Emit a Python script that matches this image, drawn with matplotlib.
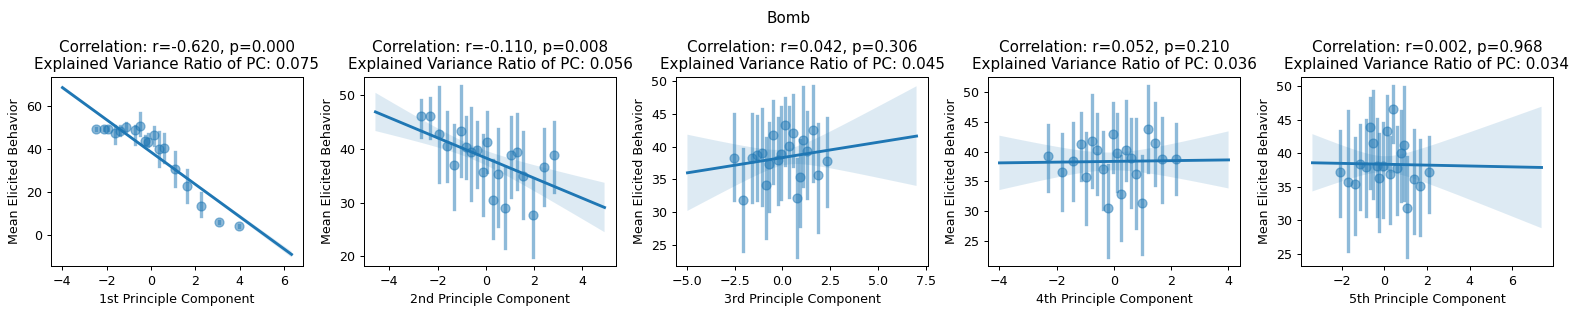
import numpy as np
import matplotlib
matplotlib.use("Agg")
import matplotlib.pyplot as plt

# ---------------- data ----------------
suptitle = "Bomb"
xlabels = ["1st Principle Component", "2nd Principle Component", "3rd Principle Component",
           "4th Principle Component", "5th Principle Component"]
corr_r = [-0.620, -0.110, 0.042, 0.052, 0.002]
corr_p = [0.000, 0.008, 0.306, 0.210, 0.968]
evr = [0.075, 0.056, 0.045, 0.036, 0.034]

# panel 1
x1 = [-2.49, -2.14, -1.96, -1.62, -1.39, -1.15, -0.73, -0.49, -0.27, -0.12, 0.11, 0.36, 0.60, 1.08, 1.61, 2.27, 3.06, 3.95]
y1 = [49.3, 49.3, 49.3, 47.5, 48.5, 50.3, 48.8, 50.4, 43.8, 43.3, 46.4, 40.2, 40.6, 30.6, 22.7, 13.8, 6.1, 4.2]
lo1 = [48.8, 48.6, 48.6, 42.8, 46.5, 48.5, 42.5, 46.4, 42.0, 41.5, 42.0, 32.3, 34.0, 22.9, 15.5, 8.8, 5.5, 3.8]
hi1 = [49.8, 50.0, 50.0, 50.4, 50.5, 51.8, 50.5, 56.6, 46.0, 47.0, 50.0, 48.0, 47.0, 38.6, 30.3, 19.8, 6.7, 4.6]

# panel 2
x2 = [-2.71, -2.30, -1.93, -1.63, -1.32, -1.03, -0.82, -0.60, -0.37, -0.11, 0.05, 0.30, 0.49, 0.81, 1.04, 1.30, 1.56, 1.96, 2.41, 2.82]
y2 = [46.2, 46.2, 42.7, 40.5, 37.0, 43.3, 40.4, 39.5, 39.8, 35.8, 41.3, 30.5, 35.3, 29.0, 38.9, 39.5, 35.0, 27.7, 36.7, 38.9]
lo2 = [42.3, 42.1, 33.8, 34.0, 28.8, 35.0, 34.6, 30.5, 32.9, 27.7, 35.8, 23.4, 25.7, 21.5, 31.0, 32.6, 27.1, 19.8, 29.6, 32.0]
hi2 = [49.1, 49.4, 51.6, 46.8, 44.5, 51.8, 46.0, 47.7, 45.1, 42.6, 46.8, 37.9, 43.7, 36.7, 45.9, 46.5, 43.1, 34.3, 43.7, 45.1]

# panel 3
x3 = [-2.52, -2.05, -1.60, -1.31, -1.05, -0.88, -0.72, -0.50, -0.24, -0.05, 0.16, 0.36, 0.55, 0.74, 0.91, 1.10, 1.29, 1.60, 1.88, 2.34]
y3 = [38.2, 31.8, 38.3, 38.7, 39.0, 34.2, 37.3, 41.8, 38.0, 38.8, 43.3, 40.1, 42.0, 32.2, 35.3, 41.0, 39.3, 42.6, 35.7, 37.8]
lo3 = [31.8, 24.1, 31.6, 31.8, 31.1, 26.0, 30.2, 34.5, 31.3, 32.0, 37.2, 32.3, 37.0, 23.1, 27.9, 34.0, 32.1, 34.8, 27.0, 30.9]
hi3 = [44.9, 39.6, 45.0, 44.7, 45.8, 41.3, 43.6, 47.0, 44.3, 46.1, 47.4, 46.1, 47.8, 38.1, 41.0, 49.1, 45.3, 49.3, 43.5, 44.3]

# panel 4
x4 = [-2.29, -1.83, -1.44, -1.16, -0.96, -0.78, -0.60, -0.37, -0.22, -0.02, 0.10, 0.25, 0.41, 0.60, 0.77, 0.98, 1.19, 1.43, 1.69, 2.17]
y4 = [39.2, 36.5, 38.5, 41.2, 35.7, 41.8, 40.3, 37.0, 30.5, 43.0, 39.8, 32.8, 40.2, 38.9, 36.3, 31.3, 43.8, 41.4, 38.8, 38.8]
lo4 = [33.4, 30.1, 31.8, 35.2, 27.8, 34.0, 32.9, 30.4, 22.2, 36.5, 33.4, 25.2, 35.3, 30.7, 27.1, 22.8, 36.5, 34.4, 31.6, 32.9]
hi4 = [44.4, 43.0, 44.8, 46.5, 43.1, 49.6, 46.4, 43.3, 37.8, 48.1, 46.4, 39.3, 48.5, 45.5, 45.5, 39.3, 51.1, 48.1, 45.6, 44.7]

# panel 5
x5 = [-2.06, -1.72, -1.39, -1.15, -0.88, -0.68, -0.53, -0.36, -0.23, -0.06, 0.12, 0.25, 0.39, 0.59, 0.77, 0.93, 1.08, 1.41, 1.66, 2.12]
y5 = [37.2, 35.7, 35.5, 38.4, 37.9, 44.0, 41.5, 38.1, 36.4, 38.1, 43.3, 37.0, 46.6, 37.8, 40.0, 41.2, 31.9, 36.2, 35.1, 37.3]
lo5 = [30.6, 25.4, 28.0, 31.7, 30.6, 34.9, 33.4, 30.6, 28.5, 30.5, 37.8, 29.6, 41.7, 31.0, 32.9, 33.1, 24.5, 28.1, 27.9, 31.2]
hi5 = [43.3, 46.3, 42.3, 44.2, 44.9, 48.3, 49.3, 45.1, 42.9, 44.6, 48.5, 42.5, 50.1, 43.9, 46.3, 49.9, 39.4, 43.5, 42.0, 42.4]

# regression lines: x range and fitted y at both ends
line_x0 = [-4.0, -4.58, -4.97, -4.0, -3.37]
line_x1 = [6.34, 4.93, 7.02, 4.01, 7.38]
line_y0 = [68.4, 46.9, 36.0, 38.1, 38.6]
line_y1 = [-8.8, 29.1, 41.6, 38.6, 37.9]
# confidence band: centre x, half-width at centre, half-width at right end
band_xc = [0.0, -0.5, 0.2, -0.1, 0.0]
band_hw0 = [0.4, 1.3, 1.2, 1.5, 1.2]
band_hw1 = [1.4, 4.6, 7.6, 4.8, 9.05]

xs = [x1, x2, x3, x4, x5]
ys = [y1, y2, y3, y4, y5]
los = [lo1, lo2, lo3, lo4, lo5]
his = [hi1, hi2, hi3, hi4, hi5]

# ---------------- figure ----------------
W, H = 1578, 314
DPI = 91
fig = plt.figure(figsize=(W / DPI, H / DPI), dpi=DPI)
color = "#1f77b4"

lefts = [51, 364, 676, 988, 1301]
ax_w = 252
ax_top, ax_bot = 77, 266

for i in range(5):
    ax = fig.add_axes([lefts[i] / W, (H - ax_bot) / H, ax_w / W, (ax_bot - ax_top) / H])
    x = np.array(xs[i]); y = np.array(ys[i])
    ax.scatter(x, y, s=50, color=color, alpha=0.5, edgecolors=color, linewidths=1, zorder=3)
    for xv, l, h in zip(x, los[i], his[i]):
        ax.plot([xv, xv], [l, h], color=color, lw=2.625, alpha=0.5, zorder=2)
    grid = np.linspace(line_x0[i], line_x1[i], 100)
    slope = (line_y1[i] - line_y0[i]) / (line_x1[i] - line_x0[i])
    yhat = line_y0[i] + slope * (grid - line_x0[i])
    k = (band_hw1[i] ** 2 - band_hw0[i] ** 2) / (line_x1[i] - band_xc[i]) ** 2
    hw = np.sqrt(band_hw0[i] ** 2 + k * (grid - band_xc[i]) ** 2)
    ax.plot(grid, yhat, color=color, lw=2.25, zorder=4)
    ax.fill_between(grid, yhat - hw, yhat + hw, facecolor=color, alpha=0.15, linewidth=0)
    ax.set_xlabel(xlabels[i])
    ax.set_ylabel("Mean Elicited Behavior")
    ax.set_title(f"Correlation: r={corr_r[i]:.3f}, p={corr_p[i]:.3f}\n"
                 f"Explained Variance Ratio of PC: {evr[i]:.3f}")

fig.suptitle(suptitle, y=0.965)
fig.savefig("out.png", dpi=DPI)
